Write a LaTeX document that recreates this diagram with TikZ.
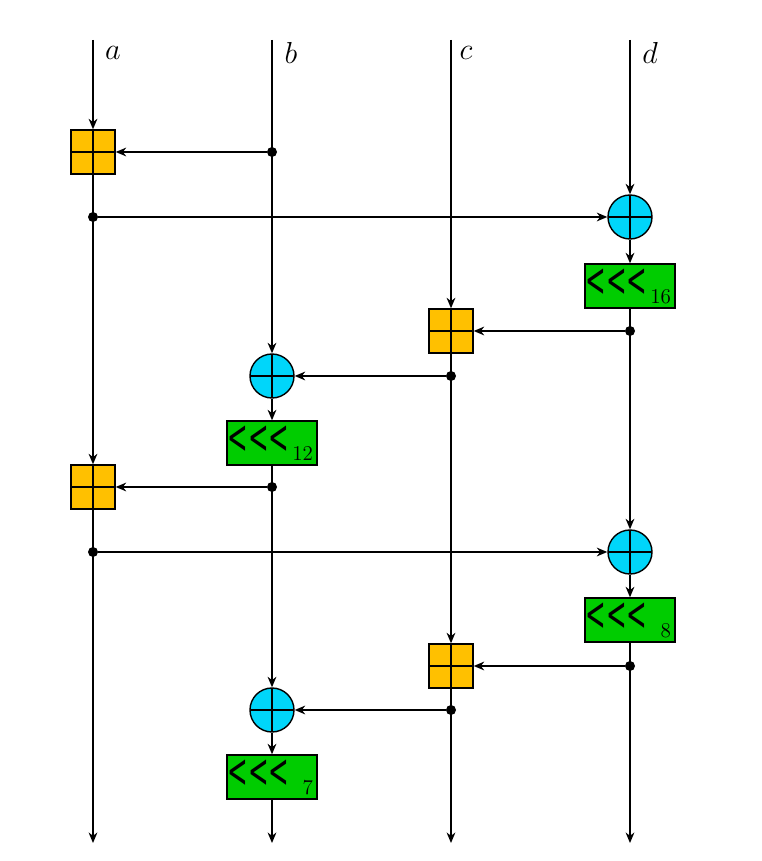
\documentclass[tikz,border=0pt]{standalone}
\usepackage{fontspec}
\usetikzlibrary{arrows.meta}

\newfontfamily\chevfont{DejaVu Sans}
\definecolor{addorange}{RGB}{255,192,0}
\definecolor{xorcyan}{RGB}{0,214,250}
\definecolor{rotgreen}{RGB}{0,204,0}

\begin{document}
\begin{tikzpicture}[
    arr/.style={-{Stealth[length=6pt,width=5pt]}, line width=0.8pt},
    addbox/.style={draw, line width=0.8pt, fill=addorange, minimum size=0.88cm,
        inner sep=0pt, path picture={
            \draw[line width=0.8pt] (path picture bounding box.north) -- (path picture bounding box.south)
                (path picture bounding box.west) -- (path picture bounding box.east);}},
    xorcirc/.style={circle, draw, line width=0.8pt, fill=xorcyan, minimum size=0.88cm,
        inner sep=0pt, path picture={
            \draw[line width=0.8pt] (path picture bounding box.north) -- (path picture bounding box.south)
                (path picture bounding box.west) -- (path picture bounding box.east);}},
    rotbox/.style={draw, line width=0.8pt, fill=rotgreen, minimum width=1.8cm,
        minimum height=0.88cm, inner sep=0pt,
        label={[anchor=north west, inner xsep=0.5pt, inner ysep=3pt, font=\chevfont\fontsize{27}{27}\selectfont]north west:\scalebox{0.52}[1]{<{}<{}<}},
        label={[anchor=south east, inner sep=2.5pt, font=\large]south east:#1}},
    lbl/.style={font=\LARGE},
    dot/.style={circle, fill, inner sep=0pt, minimum size=0.2cm}
]
    \useasboundingbox (0,0) rectangle (15.24,17.22);

    % Column inputs and outputs
    \coordinate (a0) at (1.86,16.42);
    \coordinate (b0) at (5.44,16.42);
    \coordinate (c0) at (9.02,16.42);
    \coordinate (d0) at (12.60,16.42);
    \coordinate (a9) at (1.86,0.36);
    \coordinate (b9) at (5.44,0.36);
    \coordinate (c9) at (9.02,0.36);
    \coordinate (d9) at (12.60,0.36);

    \node[lbl] (la) at (2.26,16.17) {$a$};
    \node[lbl] (lb) at (5.82,16.17) {$b$};
    \node[lbl] (lc) at (9.32,16.17) {$c$};
    \node[lbl] (ld) at (13.00,16.17) {$d$};

    % First half
    \node[addbox] (add1) at (1.86,14.18) {};
    \node[dot] (db1) at (5.44,14.18) {};
    \node[xorcirc] (xor1) at (12.60,12.88) {};
    \node[dot] (da1) at (1.86,12.88) {};
    \node[rotbox=16] (rot1) at (12.60,11.50) {};
    \node[addbox] (add2) at (9.02,10.60) {};
    \node[dot] (dd1) at (12.60,10.60) {};
    \node[xorcirc] (xor2) at (5.44,9.70) {};
    \node[dot] (dc1) at (9.02,9.70) {};
    \node[rotbox=12] (rot2) at (5.44,8.36) {};

    % Second half
    \node[addbox] (add3) at (1.86,7.48) {};
    \node[dot] (db2) at (5.44,7.48) {};
    \node[xorcirc] (xor3) at (12.60,6.18) {};
    \node[dot] (da2) at (1.86,6.18) {};
    \node[rotbox=8] (rot3) at (12.60,4.82) {};
    \node[addbox] (add4) at (9.02,3.90) {};
    \node[dot] (dd2) at (12.60,3.90) {};
    \node[xorcirc] (xor4) at (5.44,3.02) {};
    \node[dot] (dc2) at (9.02,3.02) {};
    \node[rotbox=7] (rot4) at (5.44,1.68) {};

    % Vertical flow
    \draw[arr] (a0) -- (add1);
    \draw[arr] (add1) -- (add3);
    \draw[arr] (add3) -- (a9);

    \draw[arr] (b0) -- (xor2);
    \draw[arr] (xor2) -- (rot2);
    \draw[arr] (rot2) -- (xor4);
    \draw[arr] (xor4) -- (rot4);
    \draw[arr] (rot4) -- (b9);

    \draw[arr] (c0) -- (add2);
    \draw[arr] (add2) -- (add4);
    \draw[arr] (add4) -- (c9);

    \draw[arr] (d0) -- (xor1);
    \draw[arr] (xor1) -- (rot1);
    \draw[arr] (rot1) -- (xor3);
    \draw[arr] (xor3) -- (rot3);
    \draw[arr] (rot3) -- (d9);

    % Horizontal branches
    \draw[arr] (db1) -- (add1);
    \draw[arr] (da1) -- (xor1);
    \draw[arr] (dd1) -- (add2);
    \draw[arr] (dc1) -- (xor2);
    \draw[arr] (db2) -- (add3);
    \draw[arr] (da2) -- (xor3);
    \draw[arr] (dd2) -- (add4);
    \draw[arr] (dc2) -- (xor4);
\end{tikzpicture}
\end{document}
